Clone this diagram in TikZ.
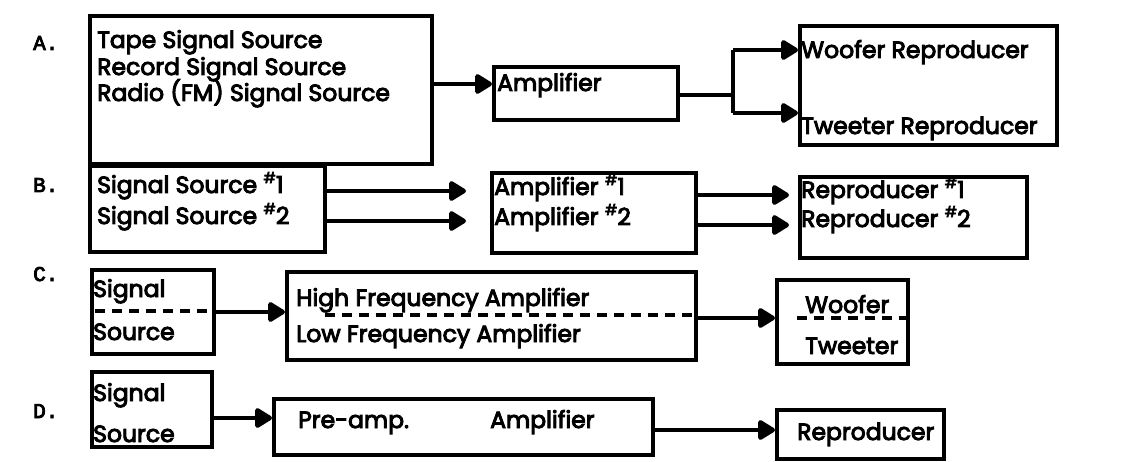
\documentclass[tikz,border=0pt]{standalone}
\usepackage{fontspec}
\setmainfont{Poppins}[FakeBold=4]
\newfontfamily\labelfont{Liberation Mono}[FakeBold=4]
\usetikzlibrary{arrows.meta}
\newcommand{\num}[1]{\raisebox{0.42em}{\fontsize{15}{15}\selectfont\#}#1}
\begin{document}
\begin{tikzpicture}[x=1pt,y=-1pt,
  box/.style={draw, line width=4pt, inner sep=0pt, anchor=north west},
  txt/.style={anchor=base west, inner sep=0pt, font=\fontsize{23.5}{26}\selectfont},
  lbl/.style={anchor=base west, inner sep=0pt, font=\labelfont\fontsize{21}{22}\selectfont},
  arr/.style={line width=4.4pt, -{Triangle[length=19pt,width=22pt,round]}},
  link/.style={line width=4.4pt},
  dashline/.style={line width=3.4pt, dash pattern=on 10pt off 7pt}
]
\useasboundingbox (0,0) rectangle (1126,462);

% row labels
\node[lbl] (la) at (33,50) {A.};
\node[lbl] (lb) at (33,192) {B.};
\node[lbl] (lc) at (33,281) {C.};
\node[lbl] (ld) at (33,418) {D.};

% ---- A: several sources, one amplifier, two reproducers
\node[box, minimum width=342pt, minimum height=148pt] (srcA) at (88,14) {};
\node[txt] (a1) at (97,48) {Tape Signal Source};
\node[txt] (a2) at (97,75) {Record Signal Source};
\node[txt] (a3) at (97,101) {Radio (FM) Signal Source};

\node[box, minimum width=184pt, minimum height=53pt] (ampA) at (492,65) {};
\node[txt] (a4) at (497,91) {Amplifier};

\node[box, minimum width=257pt, minimum height=119pt] (repA) at (798,24) {};
\node[txt] (a5) at (801,58) {Woofer Reproducer};
\node[txt] (a6) at (801,134) {Tweeter Reproducer};

\coordinate (jA) at (733,95);
\coordinate (jAtop) at (733,50);
\coordinate (jAbot) at (733,113);

\draw[arr] (srcA.east |- 0,84) -- (ampA.west |- 0,84);
\draw[link] (ampA.east |- jA) -- (jA);
\draw[link] (jAtop) -- (jAbot);
\draw[arr] (jAtop) -- (repA.west |- jAtop);
\draw[arr] (jAbot) -- (repA.west |- jAbot);

% ---- B: two parallel chains
\node[box, minimum width=235pt, minimum height=86pt] (srcB) at (88,164) {};
\node[txt] (b1) at (97,193) {Signal Source \num{1}};
\node[txt] (b2) at (97,224) {Signal Source \num{2}};

\node[box, minimum width=204pt, minimum height=80pt] (ampB) at (490,171) {};
\node[txt] (b3) at (494,195) {Amplifier \num{1}};
\node[txt] (b4) at (494,225) {Amplifier \num{2}};

\node[box, minimum width=227pt, minimum height=81pt] (repB) at (798,175) {};
\node[txt] (b5) at (801,198) {Reproducer \num{1}};
\node[txt] (b6) at (801,227) {Reproducer \num{2}};

\draw[arr, shorten >=24pt] (srcB.east |- 0,191) -- (ampB.west |- 0,191);
\draw[arr, shorten >=24pt] (srcB.east |- 0,221) -- (ampB.west |- 0,221);
\draw[arr, shorten >=9pt] (ampB.east |- 0,195) -- (repB.west |- 0,195);
\draw[arr, shorten >=9pt] (ampB.east |- 0,225) -- (repB.west |- 0,225);

% ---- C: split by frequency
\node[box, minimum width=122pt, minimum height=84pt] (srcC) at (90,268) {};
\node[txt] (c1) at (93,297) {Signal};
\node[txt] (c2) at (93,340) {Source};
\draw[dashline] (95,311) -- (srcC.east |- 0,311);

\node[box, minimum width=409pt, minimum height=88pt] (hfC) at (285,270) {};
\node[txt] (c3) at (296,306) {High Frequency Amplifier};
\node[txt] (c4) at (296,342) {Low Frequency Amplifier};
\draw[dashline] (hfC.west |- 0,315) ++(40,0) -- (hfC.east |- 0,315);

\node[box, minimum width=131pt, minimum height=84pt] (spkC) at (775,278) {};
\node[txt] (c5) at (805,313) {Woofer};
\node[txt] (c6) at (805,354) {Tweeter};
\draw[dashline] (spkC.west |- 0,318) ++(22,0) -- (spkC.east |- 0,318);

\draw[arr] (srcC.east |- 0,312) -- (hfC.west |- 0,312);
\draw[arr] (hfC.east |- 0,318) -- (spkC.west |- 0,318);

% ---- D: pre-amplifier and amplifier in one unit
\node[box, minimum width=120pt, minimum height=75pt] (srcD) at (90,370) {};
\node[txt] (d1) at (93,401) {Signal};
\node[txt] (d2) at (93,442) {Source};

\node[box, minimum width=379pt, minimum height=56pt] (preD) at (272,397) {};
\node[txt] (d3) at (298,428) {Pre-amp.};
\node[txt] (d4) at (490,428) {Amplifier};

\node[box, minimum width=167pt, minimum height=49pt] (repD) at (775,408) {};
\node[txt] (d5) at (797,440) {Reproducer};

\draw[arr] (srcD.east |- 0,418) -- (preD.west |- 0,418);
\draw[arr] (preD.east |- 0,430) -- (repD.west |- 0,430);
\end{tikzpicture}
\end{document}
